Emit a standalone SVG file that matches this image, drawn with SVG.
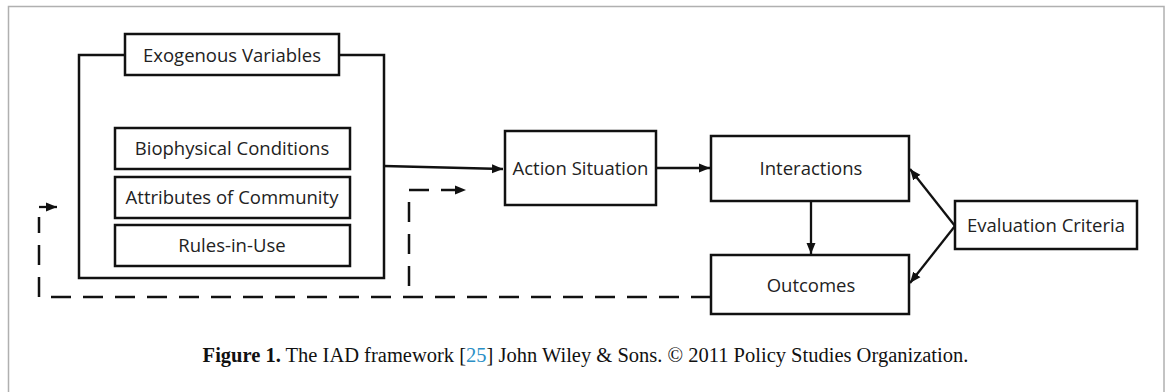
<svg xmlns="http://www.w3.org/2000/svg" width="1171" height="392" viewBox="0 0 1171 392">
<style>
.box{fill:#fff;stroke:#111;stroke-width:2.5}
.lbl{font-family:"Open Sans","Liberation Sans",sans-serif;font-size:18.5px;fill:#222;text-anchor:middle}
.ln{fill:none;stroke:#111;stroke-width:2.3}
.dash{fill:none;stroke:#111;stroke-width:2.5;stroke-dasharray:20 12}
.cap{font-family:"Liberation Serif","Times New Roman",serif;font-size:20.5px;fill:#111;text-anchor:middle}
</style>
<defs>
<marker id="ah" markerUnits="userSpaceOnUse" markerWidth="12" markerHeight="10" refX="11" refY="5" orient="auto">
<path d="M0,0.5 L11,5 L0,9.5 Z" fill="#111"/>
</marker>
</defs>
<rect x="0" y="0" width="1171" height="392" fill="#fff"/>
<rect x="8.5" y="6.5" width="1155.5" height="400" fill="none" stroke="#b0b0b0" stroke-width="1.5"/>

<g id="exogenous">
<rect class="box" x="79" y="55" width="305" height="223"/>
<rect class="box" x="125" y="34" width="214" height="41"/>
<text class="lbl" x="232" y="61.5">Exogenous Variables</text>
</g>
<g id="biophysical">
<rect class="box" x="115" y="128" width="235" height="41"/>
<text class="lbl" x="232" y="155">Biophysical Conditions</text>
</g>
<g id="attributes">
<rect class="box" x="115" y="177" width="235" height="41"/>
<text class="lbl" x="232" y="203.5">Attributes of Community</text>
</g>
<g id="rules">
<rect class="box" x="115" y="225" width="235" height="41"/>
<text class="lbl" x="232" y="252">Rules-in-Use</text>
</g>
<g id="action">
<rect class="box" x="505" y="131" width="151" height="74"/>
<text class="lbl" x="580.5" y="175">Action Situation</text>
</g>
<g id="interactions">
<rect class="box" x="711" y="136" width="198" height="65"/>
<text class="lbl" x="811" y="175">Interactions</text>
</g>
<g id="outcomes">
<rect class="box" x="711" y="255" width="198" height="59"/>
<text class="lbl" x="811" y="292">Outcomes</text>
</g>
<g id="evaluation">
<rect class="box" x="955" y="201" width="182" height="48"/>
<text class="lbl" x="1046" y="231.5">Evaluation Criteria</text>
</g>

<g id="connectors">
<path class="ln" d="M384,166 L503,169" marker-end="url(#ah)"/>
<path class="ln" d="M656,168 L710,168" marker-end="url(#ah)"/>
<path class="ln" d="M811,201 L811,254" marker-end="url(#ah)"/>
<path class="ln" d="M955,226 L910,169" marker-end="url(#ah)"/>
<path class="ln" d="M955,226 L910,283" marker-end="url(#ah)"/>
<path class="dash" d="M711,297 H39 V217"/>
<path class="ln" d="M39,207 H57" marker-end="url(#ah)"/>
<path class="dash" d="M409,286 V190 H466" marker-end="url(#ah)"/>
</g>

<g id="caption">
<text class="cap" x="585.5" y="362"><tspan font-weight="bold">Figure 1.</tspan> The IAD framework [<tspan fill="#2a8fc6">25</tspan>] John Wiley &amp; Sons. © 2011 Policy Studies Organization.</text>
</g>
</svg>
